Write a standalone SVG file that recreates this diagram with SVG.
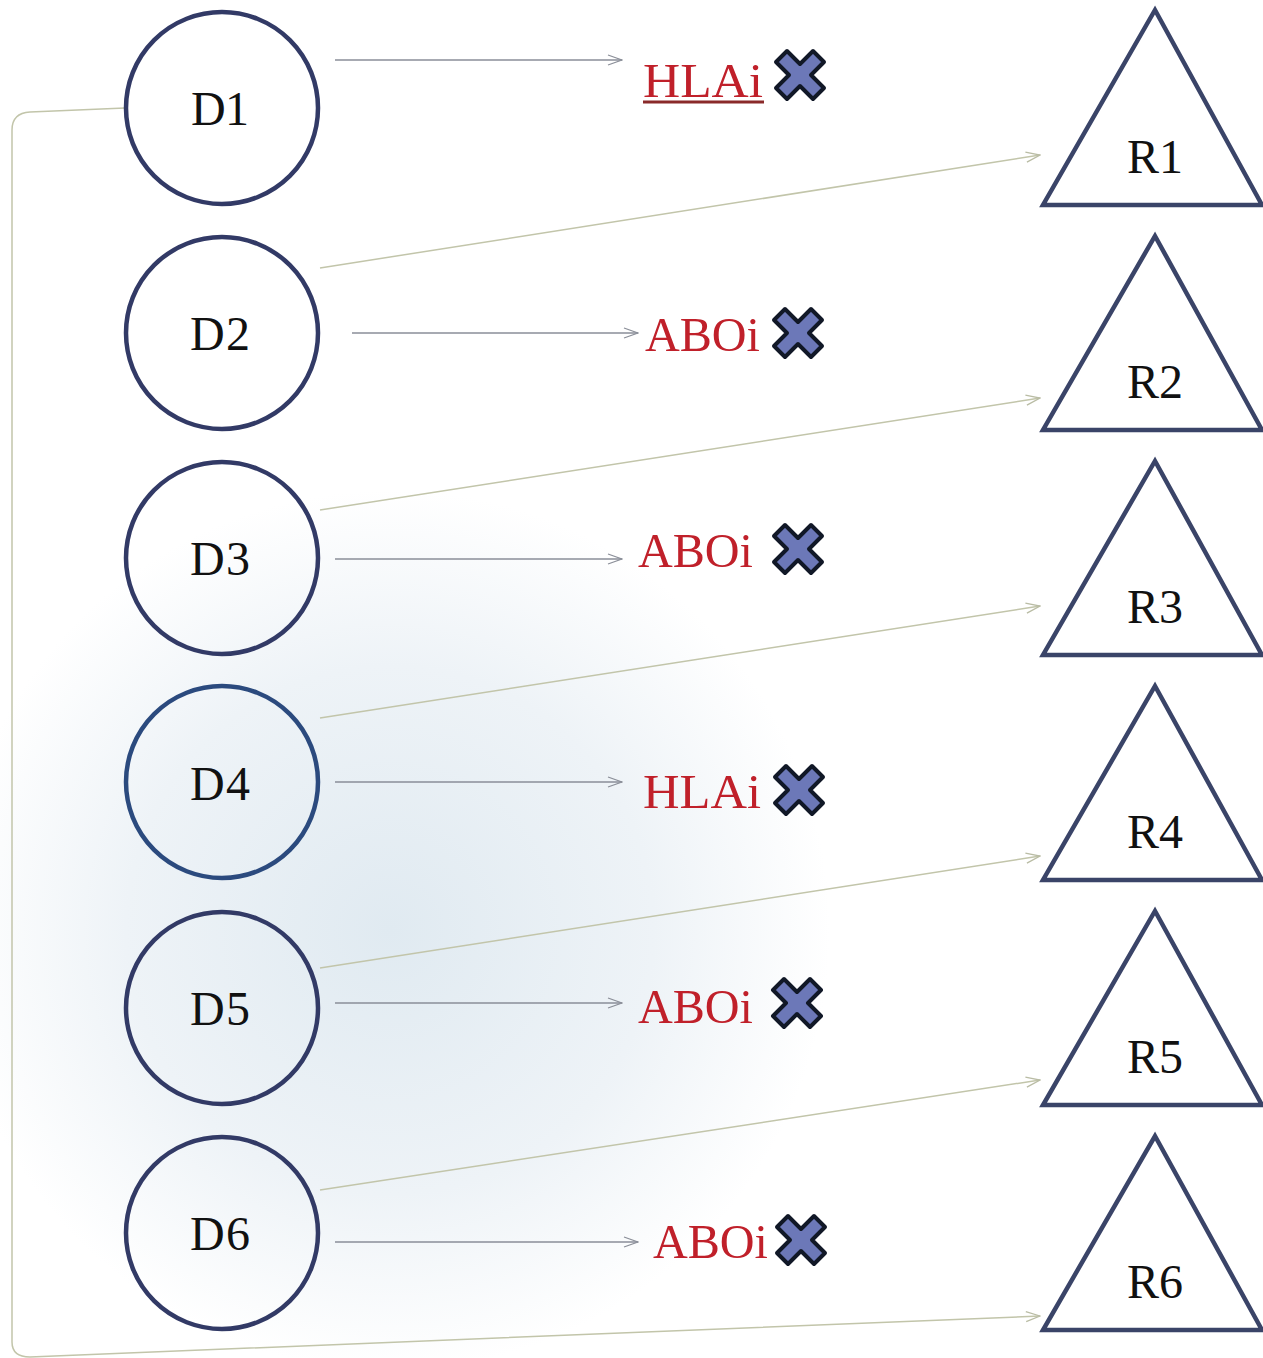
<svg xmlns="http://www.w3.org/2000/svg" width="1263" height="1358" viewBox="0 0 1263 1358">
<defs>
<radialGradient id="bg" cx="390" cy="930" r="440" gradientUnits="userSpaceOnUse">
<stop offset="0" stop-color="#e0eaf1"/>
<stop offset="0.6" stop-color="#eef3f7"/>
<stop offset="1" stop-color="#ffffff"/>
</radialGradient>
<marker id="ag" markerWidth="16" markerHeight="12" refX="15" refY="6" orient="auto" markerUnits="userSpaceOnUse">
<path d="M1,1 L15,6 L1,11" fill="none" stroke="#8a8e98" stroke-width="1.3"/>
</marker>
<marker id="at" markerWidth="16" markerHeight="12" refX="15" refY="6" orient="auto" markerUnits="userSpaceOnUse">
<path d="M1,1 L15,6 L1,11" fill="none" stroke="#b9bca4" stroke-width="1.3"/>
</marker>
<path id="x" d="M-13,-24 L0,-11 L13,-24 L24,-13 L11,0 L24,13 L13,24 L0,11 L-13,24 L-24,13 L-11,0 L-24,-13 Z"/>
</defs>
<style>
.c{fill:none;stroke:#323a66;stroke-width:4.5}
.t{fill:none;stroke:#3a4468;stroke-width:4.5;stroke-linejoin:miter}
.lbl{font-family:"Liberation Serif","DejaVu Serif",serif;font-size:48px;fill:#111;text-anchor:middle}
.red{font-family:"Liberation Serif","DejaVu Serif",serif;font-size:48px;fill:#c0202a}
.h{fill:none;stroke:#8a8e98;stroke-width:1.5}
.d{fill:none;stroke:#c2c5aa;stroke-width:1.5}
.xi{fill:#6c78b8;stroke:#111827;stroke-width:4;stroke-linejoin:round}
</style>
<rect width="1263" height="1358" fill="#fff"/>
<circle cx="390" cy="930" r="440" fill="url(#bg)"/>
<g id="connectors">
<path class="h" d="M335,60 L622,60" marker-end="url(#ag)"/>
<path class="h" d="M352,333 L638,333" marker-end="url(#ag)"/>
<path class="h" d="M335,559 L622,559" marker-end="url(#ag)"/>
<path class="h" d="M335,782 L622,782" marker-end="url(#ag)"/>
<path class="h" d="M335,1003 L622,1003" marker-end="url(#ag)"/>
<path class="h" d="M335,1242 L638,1242" marker-end="url(#ag)"/>
<path class="d" d="M320,268 L1040,155" marker-end="url(#at)"/>
<path class="d" d="M320,510 L1040,398" marker-end="url(#at)"/>
<path class="d" d="M320,718 L1040,606" marker-end="url(#at)"/>
<path class="d" d="M320,968 L1040,856" marker-end="url(#at)"/>
<path class="d" d="M320,1190 L1040,1080" marker-end="url(#at)"/>
<path class="d" d="M125,108 L30,112 Q12,113 12,130 L12,1342 Q12,1357 30,1357 L1040,1316" marker-end="url(#at)"/>
</g>
<g id="D1"><circle class="c" cx="222" cy="108" r="96"/><text class="lbl" x="220" y="125" textLength="58">D1</text></g>
<g id="D2"><circle class="c" cx="222" cy="333" r="96"/><text class="lbl" x="220" y="350" textLength="60">D2</text></g>
<g id="D3"><circle class="c" cx="222" cy="558" r="96"/><text class="lbl" x="220" y="575" textLength="60">D3</text></g>
<g id="D4"><circle class="c" cx="222" cy="782" r="96" style="stroke:#2b4a7e"/><text class="lbl" x="220" y="800" textLength="60">D4</text></g>
<g id="D5"><circle class="c" cx="222" cy="1008" r="96"/><text class="lbl" x="220" y="1025" textLength="60">D5</text></g>
<g id="D6"><circle class="c" cx="222" cy="1233" r="96"/><text class="lbl" x="220" y="1250" textLength="60">D6</text></g>
<g id="R1"><path class="t" d="M1155,10 L1262,205 L1043,205 Z"/><text class="lbl" x="1155" y="173" textLength="56">R1</text></g>
<g id="R2"><path class="t" d="M1155,236 L1262,430 L1043,430 Z"/><text class="lbl" x="1155" y="398" textLength="56">R2</text></g>
<g id="R3"><path class="t" d="M1155,461 L1262,655 L1043,655 Z"/><text class="lbl" x="1155" y="623" textLength="56">R3</text></g>
<g id="R4"><path class="t" d="M1155,686 L1262,880 L1043,880 Z"/><text class="lbl" x="1155" y="848" textLength="56">R4</text></g>
<g id="R5"><path class="t" d="M1155,911 L1262,1105 L1043,1105 Z"/><text class="lbl" x="1155" y="1073" textLength="56">R5</text></g>
<g id="R6"><path class="t" d="M1155,1136 L1262,1330 L1043,1330 Z"/><text class="lbl" x="1155" y="1298" textLength="56">R6</text></g>
<g id="L1"><text class="red" x="643" y="97" textLength="120" lengthAdjust="spacingAndGlyphs">HLAi</text><line x1="643" y1="102" x2="764" y2="102" stroke="#8a2a2a" stroke-width="3"/><use href="#x" class="xi" x="800" y="75"/></g>
<g id="L2"><text class="red" x="645" y="351" textLength="115" lengthAdjust="spacingAndGlyphs">ABOi</text><use href="#x" class="xi" x="798" y="333"/></g>
<g id="L3"><text class="red" x="638" y="567" textLength="115" lengthAdjust="spacingAndGlyphs">ABOi</text><use href="#x" class="xi" x="798" y="549"/></g>
<g id="L4"><text class="red" x="643" y="808" textLength="118" lengthAdjust="spacingAndGlyphs">HLAi</text><use href="#x" class="xi" x="799" y="790"/></g>
<g id="L5"><text class="red" x="638" y="1023" textLength="115" lengthAdjust="spacingAndGlyphs">ABOi</text><use href="#x" class="xi" x="797" y="1003"/></g>
<g id="L6"><text class="red" x="653" y="1258" textLength="115" lengthAdjust="spacingAndGlyphs">ABOi</text><use href="#x" class="xi" x="801" y="1240"/></g>
</svg>
